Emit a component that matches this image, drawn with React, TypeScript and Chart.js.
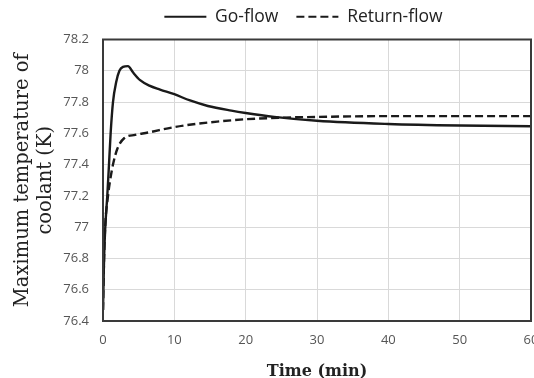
import React, { useEffect, useRef } from "react";
import { Chart, registerables } from "chart.js";

Chart.register(...registerables);

const goTime = [0, 0.15, 0.32, 0.6, 0.84, 1.07, 1.4, 1.86, 2.3, 2.8, 3.5, 4.2, 5.2, 6.5, 8, 10, 12.2, 14.7, 18, 20, 24, 30, 40, 50, 60];
const goTemp = [76.47, 76.8, 77.0, 77.2, 77.4, 77.6, 77.8, 77.93, 78.0, 78.025, 78.03, 77.99, 77.94, 77.905, 77.88, 77.85, 77.81, 77.775, 77.745, 77.73, 77.705, 77.68, 77.66, 77.65, 77.645];

const retTime = [0, 0.15, 0.3, 0.7, 1.0, 1.4, 2.0, 3.0, 4.5, 6.3, 10, 13, 16, 20, 25, 30, 40, 50, 60];
const retTemp = [76.47, 76.8, 77.0, 77.2, 77.3, 77.4, 77.5, 77.57, 77.59, 77.605, 77.64, 77.66, 77.675, 77.69, 77.7, 77.705, 77.71, 77.71, 77.71];

const seriesNames = ["Go-flow", "Return-flow"];
const xTitle = "Time (min)";
const yTitle = ["Maximum temperature of", "coolant (K)"];

const frame = {
  id: "frame",
  afterLayout(chart: any) {
    const l = chart.legend;
    if (l) {
      const dx = 38;
      const dy = -4;
      l.left += dx;
      l.right += dx;
      l.top += dy;
      l.bottom += dy;
    }
  },
  afterDraw(chart: any) {
    const { ctx, chartArea: a } = chart;
    ctx.save();
    ctx.strokeStyle = "#3a3a3a";
    ctx.lineWidth = 2;
    ctx.strokeRect(a.left, a.top, a.right - a.left, a.bottom - a.top);
    ctx.restore();
  },
};

export default function App() {
  const ref = useRef<HTMLCanvasElement>(null);
  useEffect(() => {
    const chart = new Chart(ref.current!, {
      type: "line",
      data: {
        datasets: [
          {
            label: seriesNames[0],
            data: goTime.map((t, i) => ({ x: t, y: goTemp[i] })),
            borderColor: "#1a1a1a",
            borderWidth: 2.4,
            pointRadius: 0,
            cubicInterpolationMode: "monotone",
            fill: false,
          },
          {
            label: seriesNames[1],
            data: retTime.map((t, i) => ({ x: t, y: retTemp[i] })),
            borderColor: "#1a1a1a",
            borderWidth: 2.4,
            borderDash: [8, 4],
            pointRadius: 0,
            cubicInterpolationMode: "monotone",
            fill: false,
          },
        ],
      },
      options: {
        animation: false,
        responsive: false,
        layout: { padding: { left: 0, right: 9, top: -6, bottom: 0 } },
        plugins: {
          legend: {
            position: "top",
            labels: {
              usePointStyle: true,
              pointStyle: "line",
              pointStyleWidth: 42,
              color: "#222",
              font: { family: "Open Sans", size: 17.5 },
              padding: 18,
              generateLabels: (c: any) =>
                Chart.defaults.plugins.legend.labels.generateLabels(c).map((it: any, i: number) => ({
                  ...it,
                  lineDash: c.data.datasets[i].borderDash || [],
                  lineWidth: 2.2,
                })),
            },
          },
          tooltip: { enabled: false },
        },
        scales: {
          x: {
            type: "linear",
            min: 0,
            max: 60,
            ticks: { stepSize: 10, color: "#555", font: { family: "Open Sans", size: 13 }, padding: 11 },
            grid: { color: "#d9d9d9", drawTicks: false },
            border: { display: false },
            title: {
              display: true,
              text: xTitle,
              font: { family: "DejaVu Serif", size: 16, weight: "bold", lineHeight: 1 },
              color: "#222",
              padding: { top: 8, bottom: -2 },
            },
            afterFit(s: any) {
              s.height = 57;
              s.paddingRight = 0;
            },
          },
          y: {
            min: 76.4,
            max: 78.2,
            ticks: {
              stepSize: 0.2,
              color: "#555",
              font: { family: "Open Sans", size: 13 },
              padding: 14,
              callback: (v: any) => String(parseFloat(Number(v).toFixed(1))),
            },
            grid: { color: "#d9d9d9", drawTicks: false },
            border: { display: false },
            title: {
              display: true,
              text: yTitle,
              font: { family: "DejaVu Serif", size: 19.5, lineHeight: 1.2 },
              color: "#222",
              padding: { top: 11, bottom: 0 },
            },
            afterFit(s: any) {
              s.width = 103;
            },
          },
        },
      },
      plugins: [frame],
    } as any);
    return () => chart.destroy();
  }, []);
  return (
    <div style={{ position: "fixed", left: 0, top: 0, width: 540, height: 378, background: "#fff" }}>
      <canvas ref={ref} width={540} height={378} />
    </div>
  );
}
